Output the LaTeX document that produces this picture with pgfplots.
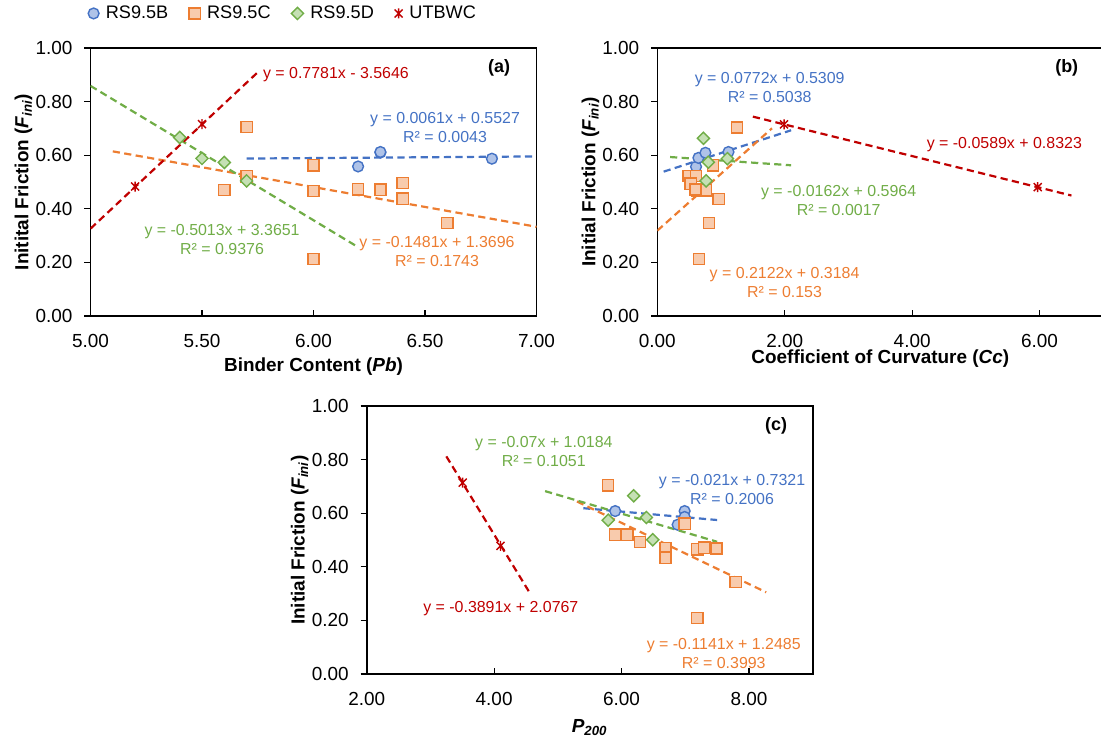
\documentclass[border=0pt]{standalone}
\usepackage{pgfplots}
\pgfplotsset{compat=1.18}
\usepackage{fontspec}
\setmainfont{Liberation Sans}

\definecolor{cB}{HTML}{4472C4}
\definecolor{cBf}{HTML}{AFC3E8}
\definecolor{cC}{HTML}{ED7D31}
\definecolor{cCf}{HTML}{F8CBAD}
\definecolor{cD}{HTML}{70AD47}
\definecolor{cDf}{HTML}{C5E0B4}
\definecolor{cU}{HTML}{C00000}

% Excel-like star: an x with a vertical bar
\pgfdeclareplotmark{xstar}{%
  \pgfpathmoveto{\pgfqpoint{-0.8\pgfplotmarksize}{-0.8\pgfplotmarksize}}%
  \pgfpathlineto{\pgfqpoint{0.8\pgfplotmarksize}{0.8\pgfplotmarksize}}%
  \pgfpathmoveto{\pgfqpoint{-0.8\pgfplotmarksize}{0.8\pgfplotmarksize}}%
  \pgfpathlineto{\pgfqpoint{0.8\pgfplotmarksize}{-0.8\pgfplotmarksize}}%
  \pgfpathmoveto{\pgfqpoint{0pt}{-\pgfplotmarksize}}%
  \pgfpathlineto{\pgfqpoint{0pt}{\pgfplotmarksize}}%
  \pgfusepathqstroke}

\pgfplotsset{
  panel/.style={
    scale only axis, width=223bp, height=134bp, anchor=south west,
    ymin=0, ymax=1, ytick={0,0.2,0.4,0.6,0.8,1},
    axis line style={black, line width=0.8bp},
    every tick/.style={black, line width=0.6bp},
    major tick length=3bp,
    xtick align=inside, ytick align=outside,
    tick pos=left,
    ticklabel style={font=\fontsize{9.5}{10.5}\selectfont},
    xticklabel style={yshift=-5.5bp},
    yticklabel style={xshift=-2.5bp},
    /pgf/number format/fixed,
    /pgf/number format/fixed zerofill,
    /pgf/number format/precision=2,
    /pgf/number format/assume math mode=true,
    label style={font=\fontsize{9.5}{11}\selectfont\bfseries},
    ylabel style={at={(axis description cs:-0.15,0.5)}, anchor=center},
    legend image code/.code={\draw[#1] plot coordinates {(0bp,0bp)};},
  },
  trend/.style={line width=1.1bp, dash pattern=on 3.6bp off 2.2bp, forget plot, no marks},
  mB/.style={only marks, mark=*, mark size=2.7bp, mark options={draw=cB, fill=cBf, line width=0.7bp}},
  mC/.style={only marks, mark=square*, mark size=2.8bp, mark options={draw=cC, fill=cCf, line width=0.7bp}},
  mD/.style={only marks, mark=square*, mark size=2.15bp, mark options={rotate=45, draw=cD, fill=cDf, line width=0.7bp}},
  mU/.style={only marks, mark=xstar, mark size=2.5bp, mark options={draw=cU, line width=0.7bp}},
}
\tikzset{
  eq/.style={font=\fontsize{8}{9.5}\selectfont, align=center, inner sep=0pt},
  tag/.style={font=\fontsize{9}{10}\selectfont\bfseries, inner sep=0pt},
}

\begin{document}
\begin{tikzpicture}
\path[use as bounding box] (0,0) rectangle (550.5bp,-370bp);

% ---------------- (a) ----------------
\begin{axis}[panel, at={(45.25bp,-158bp)},
    xmin=5, xmax=7, xtick={5,5.5,6,6.5,7},
    xlabel={Binder Content (\textit{Pb})},
    xlabel style={at={(axis description cs:0.5,-0.19)}, anchor=center},
    ylabel={Initital Friction (\textit{F\textsubscript{ini}})},
    legend columns=4,
    legend style={at={(axis description cs:-0.006,1.129)}, anchor=west,
      draw=none, fill=none, inner sep=0pt, font=\fontsize{9.1}{10}\selectfont,
      nodes={inner sep=0pt},
      /tikz/every odd column/.style={column sep=3.4bp},
      /tikz/every even column/.style={column sep=10.4bp}},
]
\addplot[mB] coordinates {(6.2,0.558) (6.3,0.610) (6.3,0.612) (6.8,0.587)};
\addlegendentry{RS9.5B}
\addplot[mC] coordinates {(5.7,0.705) (5.6,0.470) (5.7,0.523) (5.7,0.521) (6.0,0.562)
  (6.0,0.467) (6.0,0.212) (6.2,0.473) (6.3,0.471) (6.4,0.496) (6.4,0.438) (6.6,0.347)};
\addlegendentry{RS9.5C}
\addplot[mD] coordinates {(5.4,0.666) (5.5,0.588) (5.6,0.573) (5.7,0.504)};
\addlegendentry{RS9.5D}
\addplot[mU] coordinates {(5.2,0.483) (5.5,0.716)};
\addlegendentry{UTBWC}
% trendlines
\addplot[trend, cB] coordinates {(5.7,0.5875) (7.0,0.5954)};
\addplot[trend, cC] coordinates {(5.1,0.6143) (7.0,0.3329)};
\addplot[trend, cD] coordinates {(5.0,0.8586) (6.2,0.2570)};
\addplot[trend, cU] coordinates {(5.0,0.3259) (5.75,0.9094)};
\node[eq, text=cU, anchor=west] at (axis cs:5.772,0.899) {y = 0.7781x - 3.5646};
\node[eq, text=cB] at (axis cs:6.590,0.7045) {y = 0.0061x + 0.5527\\R² = 0.0043};
\node[eq, text=cD] at (axis cs:5.590,0.2862) {y = -0.5013x + 3.3651\\R² = 0.9376};
\node[eq, text=cC] at (axis cs:6.554,0.2399) {y = -0.1481x + 1.3696\\R² = 0.1743};
\node[tag] at (axis cs:6.832,0.925) {(a)};
\end{axis}

% ---------------- (b) ----------------
\begin{axis}[panel, at={(328.65bp,-158bp)},
    xmin=0, xmax=7, xtick={0,2,4,6},
    xlabel={Coefficient of Curvature (\textit{Cc})},
    xlabel style={at={(axis description cs:0.5,-0.16)}, anchor=center},
    ylabel={Initial Friction (\textit{F\textsubscript{ini}})},
]
\addplot[mB] coordinates {(0.608,0.557) (0.645,0.590) (0.755,0.609) (1.117,0.612)};
\addplot[mC] coordinates {(1.248,0.703) (0.871,0.562) (0.488,0.522) (0.608,0.522)
  (0.525,0.494) (0.593,0.474) (0.629,0.469) (0.766,0.469) (0.600,0.472) (0.965,0.437)
  (0.813,0.347) (0.656,0.212)};
\addplot[mD] coordinates {(0.724,0.663) (0.800,0.574) (1.100,0.587) (0.766,0.504)};
\addplot[mU] coordinates {(1.99,0.715) (5.97,0.481)};
\addplot[trend, cB] coordinates {(0.1,0.5386) (2.1,0.6930)};
\addplot[trend, cC] coordinates {(0.0,0.3184) (1.8,0.7004)};
\addplot[trend, cD] coordinates {(0.2,0.5932) (2.1,0.5624)};
\addplot[trend, cU] coordinates {(1.5,0.7440) (6.5,0.4495)};
\node[eq, text=cB] at (axis cs:1.764,0.854) {y = 0.0772x + 0.5309\\R² = 0.5038};
\node[eq, text=cU] at (axis cs:5.447,0.638) {y = -0.0589x + 0.8323};
\node[eq, text=cD] at (axis cs:2.846,0.430) {y = -0.0162x + 0.5964\\R² = 0.0017};
\node[eq, text=cC] at (axis cs:1.997,0.124) {y = 0.2122x + 0.3184\\R² = 0.153};
\node[tag] at (axis cs:6.426,0.925) {(b)};
\end{axis}

% ---------------- (c) ----------------
\begin{axis}[panel, at={(183.35bp,-337bp)},
    xmin=2, xmax=9, xtick={2,4,6,8},
    xlabel={\textit{P}\textsubscript{\textit{200}}},
    xlabel style={at={(axis description cs:0.5,-0.2)}, anchor=center},
    ylabel={Initial Friction (\textit{F\textsubscript{ini}})},
]
\addplot[mB] coordinates {(5.90,0.608) (6.88,0.557) (6.99,0.608) (6.99,0.586)};
\addplot[mC] coordinates {(5.79,0.704) (5.90,0.520) (6.09,0.520) (6.29,0.493) (6.69,0.470)
  (6.69,0.434) (6.99,0.561) (7.19,0.465) (7.30,0.471) (7.49,0.468) (7.79,0.343) (7.19,0.209)};
\addplot[mD] coordinates {(5.79,0.574) (6.19,0.665) (6.39,0.584) (6.49,0.501)};
\addplot[mU] coordinates {(3.506,0.714) (4.10,0.478)};
\addplot[trend, cB] coordinates {(5.4,0.6187) (7.5,0.5746)};
\addplot[trend, cC] coordinates {(5.3,0.6438) (8.27,0.3049)};
\addplot[trend, cD] coordinates {(4.8,0.6824) (7.5,0.4934)};
\addplot[trend, cU] coordinates {(3.25,0.8121) (4.57,0.2985)};
\node[eq, text=cD] at (axis cs:4.780,0.831) {y = -0.07x + 1.0184\\R² = 0.1051};
\node[eq, text=cB] at (axis cs:7.735,0.687) {y = -0.021x + 0.7321\\R² = 0.2006};
\node[eq, text=cU] at (axis cs:4.105,0.245) {y = -0.3891x + 2.0767};
\node[eq, text=cC] at (axis cs:7.604,0.0765) {y = -0.1141x + 1.2485\\R² = 0.3993};
\node[tag] at (axis cs:8.425,0.926) {(c)};
\end{axis}
\end{tikzpicture}
\end{document}
